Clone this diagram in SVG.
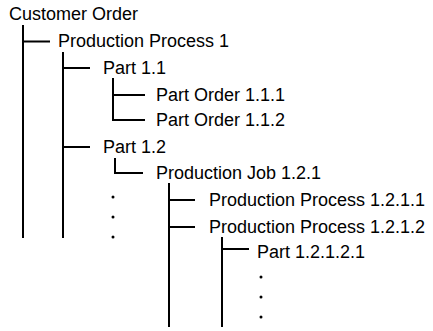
<svg xmlns="http://www.w3.org/2000/svg" width="433" height="331" viewBox="0 0 433 331">
<style>
text{font-family:"Liberation Sans",Arial,sans-serif;font-size:18px;fill:#000}
.c{stroke:#000;stroke-width:2;fill:none}
</style>
<rect width="433" height="331" fill="#fff"/>
<g id="connectors">
<path class="c" d="M23 25V238M23 41.5H50"/>
<path class="c" d="M63 52V238M63 68H90M63 147H90"/>
<path class="c" d="M113 78V120H145M113 95H145"/>
<path class="c" d="M115 158V173H143"/>
<path class="c" d="M169 183V327M169 200H195M169 227H195"/>
<path class="c" d="M222 237V327M222 249H249"/>
</g>
<g id="n0"><text x="9" y="20">Customer Order</text></g>
<g id="n1"><text x="58" y="47">Production Process 1</text></g>
<g id="n2"><text x="103" y="74">Part 1.1</text></g>
<g id="n3"><text x="156" y="101">Part Order 1.1.1</text></g>
<g id="n4"><text x="156" y="126">Part Order 1.1.2</text></g>
<g id="n5"><text x="103" y="153">Part 1.2</text></g>
<g id="n6"><text x="156" y="179">Production Job 1.2.1</text></g>
<g id="n7"><text x="209" y="206">Production Process 1.2.1.1</text></g>
<g id="n8"><text x="209" y="233">Production Process 1.2.1.2</text></g>
<g id="n9"><text x="257" y="258">Part 1.2.1.2.1</text></g>
<g id="dots">
<circle cx="113" cy="197" r="1.5"/><circle cx="113" cy="217" r="1.5"/><circle cx="113" cy="237" r="1.5"/>
<circle cx="261" cy="277" r="1.5"/><circle cx="261" cy="297" r="1.5"/><circle cx="261" cy="317" r="1.5"/>
</g>
</svg>
